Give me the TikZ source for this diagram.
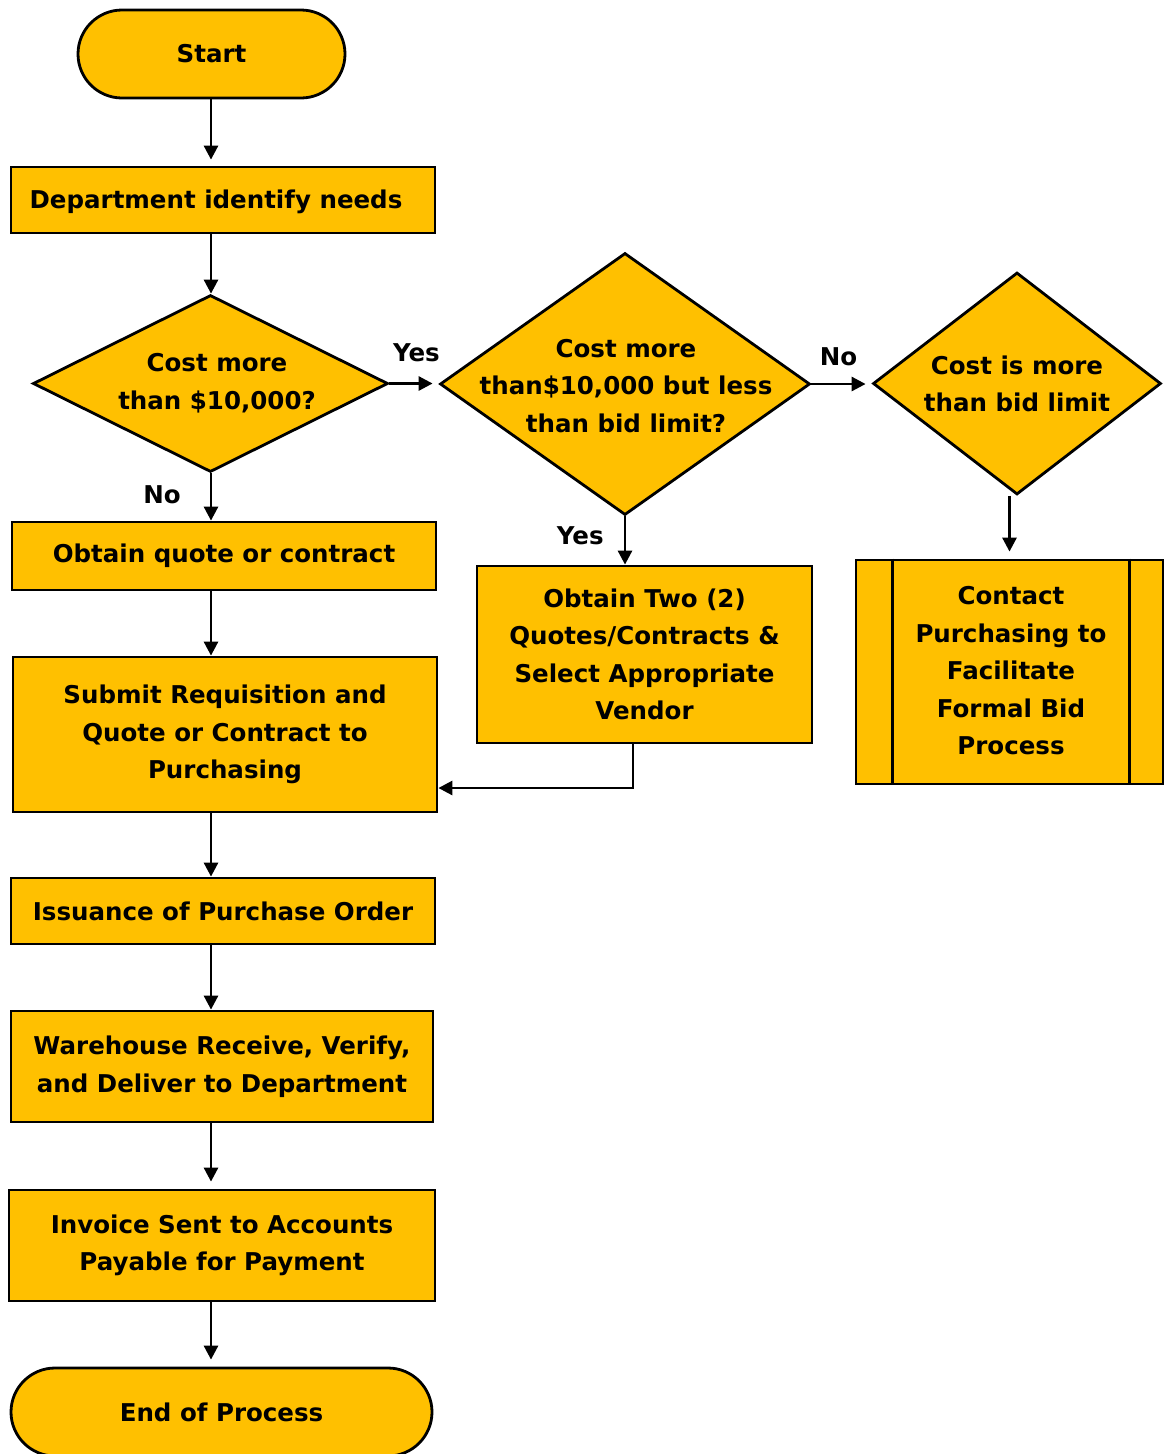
\documentclass[tikz,border=0pt]{standalone}
\usepackage{fontspec}
\setmainfont{DejaVu Sans}
\usetikzlibrary{shapes.geometric,arrows.meta}
\definecolor{fillY}{HTML}{FFC000}
\tikzset{
  x={(1pt,0)}, y={(0,-1pt)},
  every node/.style={font={\fontsize{24.5}{37.5}\selectfont\bfseries}, align=center, inner sep=0pt},
  box/.style={draw, line width=2.8pt, fill=fillY, rectangle},
  term/.style={draw, line width=2.8pt, fill=fillY, rectangle, rounded corners=44pt},
  dia/.style={draw, line width=2.8pt, fill=fillY, diamond},
  arr/.style={line width=2.8pt, -{Triangle[length=14pt,width=14pt]}},
}
\begin{document}
\begin{tikzpicture}
\useasboundingbox (0,0) rectangle (1163,1454);
% nodes
\node[term, minimum width=267pt, minimum height=88pt] (start) at (211.5,54) {Start};
\node[box, minimum width=424pt, minimum height=66pt] (dept) at (223,200) {};
\node (deptt) at (216,202) {Department identify needs};
\node[dia, minimum width=355pt, minimum height=177pt] (d1) at (210.5,383.5) {};
\node (d1t) at (217,383) {Cost more\\than \$10,000?};
\node[dia, minimum width=370pt, minimum height=262pt] (d2) at (625,384) {};
\node (d2t) at (626,386) {Cost more\\than\$10,000 but less\\than bid limit?};
\node[dia, minimum width=288pt, minimum height=222pt] (d3) at (1017,383.5) {};
\node (d3t) at (1017,384) {Cost is more\\than bid limit};
\node[box, minimum width=424pt, minimum height=68pt] (quote) at (224,556) {Obtain quote or contract};
\node[box, minimum width=424pt, minimum height=155pt] (sub) at (225,734.5) {Submit Requisition and\\Quote or Contract to\\Purchasing};
\node[box, minimum width=335pt, minimum height=177pt] (two) at (644.5,654.5) {Obtain Two (2)\\Quotes/Contracts \&\\Select Appropriate\\Vendor};
\node[box, minimum width=307pt, minimum height=224pt] (con) at (1009.5,672) {};
\node (cont) at (1011,671) {Contact\\Purchasing to\\Facilitate\\Formal Bid\\Process};
\draw[line width=2.8pt] ([xshift=38pt]con.north west) -- ([xshift=38pt]con.south west);
\draw[line width=2.8pt] ([xshift=-35pt]con.north east) -- ([xshift=-35pt]con.south east);
\node[box, minimum width=424pt, minimum height=66pt] (iss) at (223,911) {Issuance of Purchase Order};
\node[box, minimum width=422pt, minimum height=111pt] (wh) at (222,1066.5) {Warehouse Receive, Verify,\\and Deliver to Department};
\node[box, minimum width=426pt, minimum height=111pt] (inv) at (222,1245.5) {Invoice Sent to Accounts\\Payable for Payment};
\node[term, minimum width=421pt, minimum height=88pt] (end) at (221.5,1412) {End of Process};
% connectors
\draw[arr, shorten >=6pt] (start.south -| 211,0) -- (dept.north -| 211,0);
\draw[arr] (dept.south -| 211,0) -- (d1.north -| 211,0);
\draw[arr, shorten >=6pt] (d1.east) -- (d2.west |- d1.east) node[pos=0.55, above=20pt] (yes1) {Yes};
\draw[arr, shorten >=6pt] (d2.east) -- (d3.west |- d2.east) node[pos=0.45, above=17pt] (no2) {No};
\draw[arr] (d1.south -| 211,0) -- (quote.north -| 211,0) node[pos=0.45, left=29pt] (no1) {No};
\draw[arr] (d2.south) -- (two.north -| d2.south) node[pos=0.4, left=20pt] (yes2) {Yes};
\draw[arr, shorten >=7pt] (d3.south -| con.north) -- (con.north);
\draw[arr] (quote.south -| 211,0) -- (sub.north -| 211,0);
\draw[arr] ([xshift=-11.5pt]two.south) |- ([yshift=-53.5pt]sub.east);
\draw[arr] (sub.south -| 211,0) -- (iss.north -| 211,0);
\draw[arr] (iss.south -| 211,0) -- (wh.north -| 211,0);
\draw[arr, shorten >=7pt] (wh.south -| 211,0) -- (inv.north -| 211,0);
\draw[arr, shorten >=7pt] (inv.south -| 211,0) -- (end.north -| 211,0);
\end{tikzpicture}
\end{document}
